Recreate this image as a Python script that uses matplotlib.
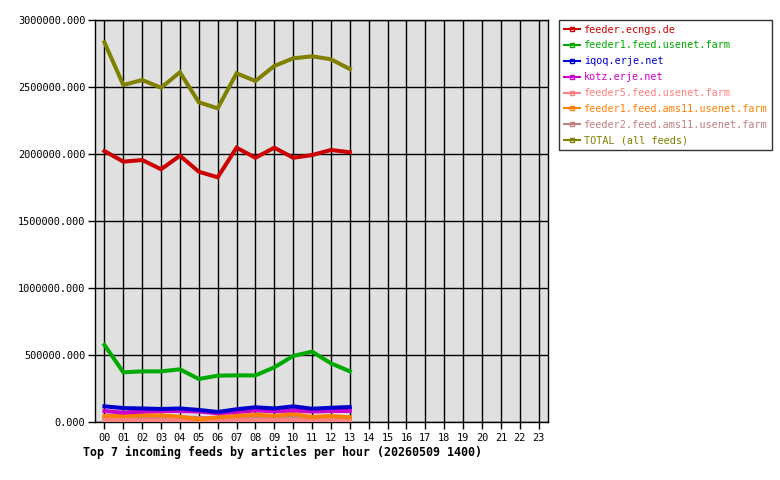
import matplotlib
matplotlib.use("Agg")
import matplotlib.pyplot as plt
from matplotlib.ticker import FormatStrFormatter

hours = ["%02d" % h for h in range(24)]
n_pts = 14  # data up to hour 13

feed_names = [
    "feeder.ecngs.de",
    "feeder1.feed.usenet.farm",
    "iqoq.erje.net",
    "kotz.erje.net",
    "feeder5.feed.usenet.farm",
    "feeder1.feed.ams11.usenet.farm",
    "feeder2.feed.ams11.usenet.farm",
    "TOTAL (all feeds)",
]
feed_colors = ["#cc0000", "#00aa00", "#0000cc", "#cc00cc",
               "#ff8080", "#ff8000", "#c08080", "#808000"]

ecngs = [2022000, 1943000, 1955000, 1886000, 1987000, 1868000, 1826000,
         2047000, 1972000, 2047000, 1972000, 1992000, 2030000, 2013000]
usenet_farm = [575000, 371000, 378000, 378000, 393000, 321000, 346000,
               348000, 348000, 408000, 493000, 525000, 438000, 378000]
iqoq = [117000, 104000, 101000, 97000, 101000, 90000, 75000,
        95000, 110000, 101000, 117000, 99000, 106000, 112000]
kotz = [82000, 70000, 78000, 82000, 82000, 78000, 65000,
        75000, 87000, 80000, 87000, 78000, 82000, 82000]
feeder5 = [14000, 15000, 13000, 12000, 15000, 14000, 12000,
           13000, 15000, 14000, 16000, 13000, 14000, 13000]
ams11_1 = [45000, 45000, 50000, 50000, 40000, 20000, 35000,
           45000, 55000, 45000, 60000, 37000, 45000, 35000]
ams11_2 = [30000, 30000, 32000, 28000, 35000, 30000, 28000,
           30000, 30000, 25000, 32000, 30000, 28000, 28000]
total = [2833000, 2515000, 2552000, 2495000, 2610000, 2386000, 2341000,
         2602000, 2545000, 2657000, 2714000, 2729000, 2707000, 2634000]

series = [ecngs, usenet_farm, iqoq, kotz, feeder5, ams11_1, ams11_2, total]

plt.rcParams["font.family"] = "DejaVu Sans Mono"

fig = plt.figure(figsize=(7.8, 4.8), dpi=100)
ax = fig.add_axes([95 / 780, 58 / 480, 453 / 780, 402 / 480])
ax.set_facecolor("#e0e0e0")

x = list(range(n_pts))
# bottom series first so the bigger ones sit on top
order = [6, 4, 5, 3, 2, 1, 0, 7]
for i in order:
    ax.plot(x, series[i], color=feed_colors[i], lw=2.9,
            solid_joinstyle="miter", zorder=3)

ax.set_xlim(-0.5, 23.5)
ax.set_ylim(0, 3000000)
ax.set_xticks(range(24))
ax.set_xticklabels(hours)
ax.set_yticks([0, 500000, 1000000, 1500000, 2000000, 2500000, 3000000])
ax.yaxis.set_major_formatter(FormatStrFormatter("%.3f"))
ax.grid(True, color="black", lw=1.0, zorder=1)
ax.set_axisbelow(True)
for s in ax.spines.values():
    s.set_color("black")
    s.set_linewidth(1.0)
ax.tick_params(axis="both", length=5, width=1, labelsize=7.4, color="black")
ax.tick_params(axis="x", pad=3)
ax.tick_params(axis="y", pad=2)

fig.text(83 / 780, 1 - 452 / 480, "Top 7 incoming feeds by articles per hour (20260509 1400)",
         fontsize=8.35, fontweight="bold", va="center", ha="left")

leg_handles = [plt.Line2D([], [], color=feed_colors[i], lw=1.5, marker="s",
                          markersize=3, markerfacecolor="none",
                          markeredgewidth=1) for i in range(len(feed_names))]
leg = fig.legend(leg_handles, feed_names, loc="upper left",
                 bbox_to_anchor=(559 / 780, 1 - 20 / 480),
                 fontsize=7.3, frameon=True, fancybox=False, labelcolor="linecolor",
                 handlelength=1.6, handletextpad=0.4, labelspacing=0.58,
                 borderpad=0.45, borderaxespad=0, markerscale=1)
leg.get_frame().set_edgecolor("black")
leg.get_frame().set_linewidth(1.0)

fig.savefig("out.png", dpi=100)
